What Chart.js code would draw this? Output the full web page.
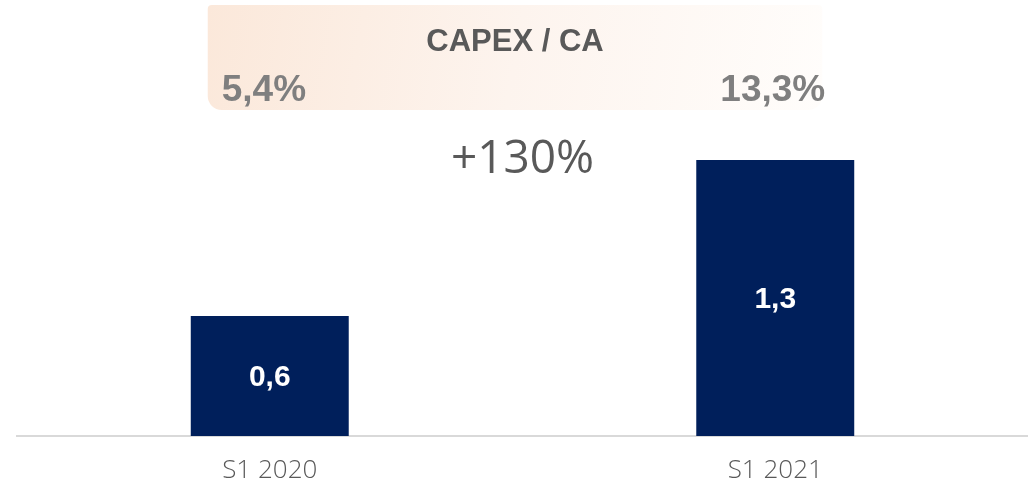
<!DOCTYPE html>
<html>
<head>
<meta charset="utf-8">
<script src="https://cdn.jsdelivr.net/npm/chart.js@4/dist/chart.umd.min.js"></script>
<style>
  html, body { margin: 0; padding: 0; background: #ffffff; }
  #wrap { width: 1028px; height: 492px; }
</style>
</head>
<body>
<div id="wrap"><canvas id="capexChart"></canvas></div>
<script>
const categories = ["S1 2020", "S1 2021"];
const capexValues = [0.6, 1.38];
const capexLabels = ["0,6", "1,3"];
const ratioLabels = ["5,4%", "13,3%"];
const bannerTitle = "CAPEX / CA";
const growthLabel = "+130%";

// banner + growth text drawn behind the bars
const overlayPlugin = {
    id: "overlay",
    beforeDatasetsDraw(chart) {
        const ctx = chart.ctx;
        const x = chart.scales.x;
        const x0 = x.getPixelForValue(0);
        const x1 = x.getPixelForValue(1);
        const left = x0 - 62, right = x1 + 47, top = 5, bottom = 110;

        ctx.save();
        const grad = ctx.createLinearGradient(left, top, right, bottom);
        grad.addColorStop(0, "#fbe8da");
        grad.addColorStop(0.5, "#fdf4ee");
        grad.addColorStop(1, "#fffdfb");
        ctx.fillStyle = grad;
        ctx.beginPath();
        ctx.roundRect(left, top, right - left, bottom - top, [4, 4, 14, 14]);
        ctx.fill();

        ctx.fillStyle = "#595959";
        ctx.font = "bold 31px 'Liberation Sans', Arial, sans-serif";
        ctx.textAlign = "center";
        ctx.textBaseline = "middle";
        ctx.fillText(bannerTitle, (left + right) / 2, 42);

        ctx.fillStyle = "#7f7f7f";
        ctx.font = "bold 37px 'Liberation Sans', Arial, sans-serif";
        ctx.textAlign = "left";
        ctx.fillText(ratioLabels[0], left + 14, 91);
        ctx.textAlign = "right";
        ctx.fillText(ratioLabels[1], right + 3, 91);

        ctx.fillStyle = "#595959";
        ctx.font = "46px 'Open Sans', sans-serif";
        ctx.textAlign = "center";
        ctx.fillText(growthLabel, (x0 + x1) / 2, 160);
        ctx.restore();
    },
    afterDatasetsDraw(chart) {
        const ctx = chart.ctx;
        const meta = chart.getDatasetMeta(0);
        ctx.save();
        ctx.fillStyle = "#ffffff";
        ctx.font = "bold 30px 'Liberation Sans', Arial, sans-serif";
        ctx.textAlign = "center";
        ctx.textBaseline = "middle";
        meta.data.forEach((bar, i) => {
            ctx.fillText(capexLabels[i], bar.x, (bar.y + bar.base) / 2 + 2);
        });
        ctx.restore();
    }
};

const ctx = document.getElementById("capexChart").getContext("2d");
new Chart(ctx, {
    type: "bar",
    data: {
        labels: categories,
        datasets: [{
            data: capexValues,
            backgroundColor: "#001f5b",
            barPercentage: 0.3125,
            categoryPercentage: 1
        }]
    },
    options: {
        responsive: true,
        maintainAspectRatio: false,
        animation: false,
        layout: { padding: { top: 36, left: 17, right: 0, bottom: 0 } },
        scales: {
            x: {
                grid: { display: false, drawTicks: false, tickLength: 0 },
                border: { color: "#d9d9d9", width: 2 },
                ticks: {
                    color: "#595959",
                    padding: 19,
                    font: { family: "'Open Sans', sans-serif", size: 26, weight: "300" }
                },
                afterFit(scale) { scale.height = 56; }
            },
            y: {
                display: false,
                min: 0,
                max: 2
            }
        },
        plugins: {
            legend: { display: false },
            tooltip: { enabled: false }
        }
    },
    plugins: [overlayPlugin]
});
</script>
</body>
</html>
